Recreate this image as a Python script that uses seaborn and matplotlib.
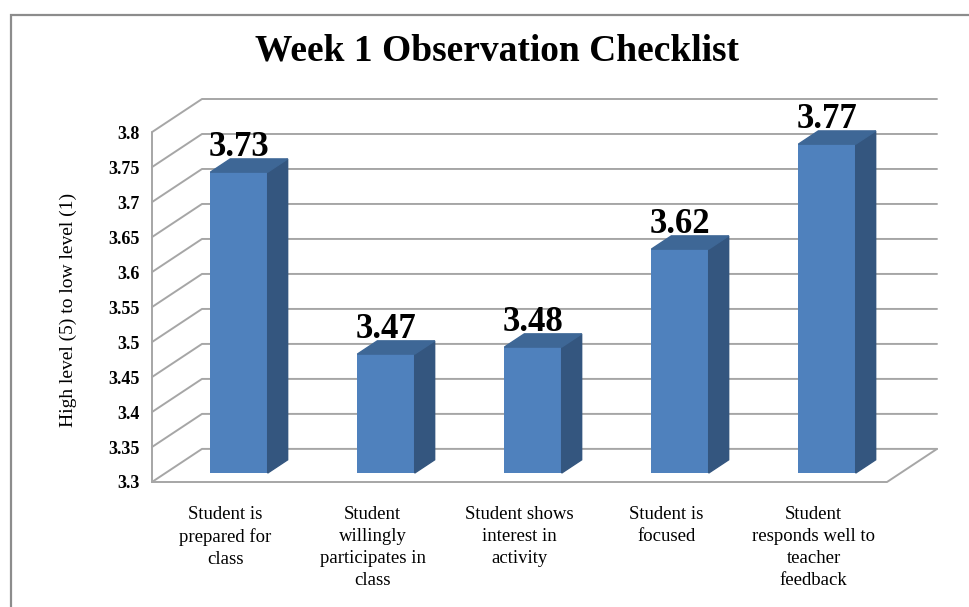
import numpy as np
import seaborn as sns
import matplotlib
matplotlib.use('Agg')
import matplotlib.pyplot as plt
from matplotlib.patches import Polygon, Rectangle

# datos del grafico
categorias = ['Student is\nprepared for\nclass',
              'Student\nwillingly\nparticipates in\nclass',
              'Student shows\ninterest in\nactivity',
              'Student is\nfocused',
              'Student\nresponds well to\nteacher\nfeedback']
valores = [3.73, 3.47, 3.48, 3.62, 3.77]
ticks_y = [3.3, 3.35, 3.4, 3.45, 3.5, 3.55, 3.6, 3.65, 3.7, 3.75, 3.8]

sns.set_style('white')
plt.rcParams['font.family'] = ['Liberation Serif', 'DejaVu Serif']
plt.rcParams['text.color'] = 'black'
plt.rcParams['xtick.color'] = 'black'
plt.rcParams['ytick.color'] = 'black'
plt.rcParams['axes.labelcolor'] = 'black'

# profundidad del efecto 3D (en unidades de datos)
Y0 = 3.3
DX, DY = 0.34, 0.0473
FRAC = 0.27      # posicion de la cara frontal de la barra
SIDE = 0.40      # profundidad de la barra
c_front, c_side, c_top = '#4F81BD', '#34567F', '#3E6796'
c_grid = '#A6A6A6'

fig = plt.figure(figsize=(9.69, 6.07), dpi=100)
ax = fig.add_axes([152 / 969, 1 - 482 / 607, 785 / 969, 383 / 607])

sns.barplot(x=list(range(len(valores))), y=valores, color=c_front,
            width=0.39, saturation=1, ax=ax, zorder=3)

ax.set_xlim(-0.5, len(valores) - 0.5 + DX)
ax.set_ylim(Y0, ticks_y[-1] + DY)
x0, x1 = -0.5, len(valores) - 0.5

# paredes y piso
for t in ticks_y:
    ax.plot([x0, x0 + DX, x1 + DX], [t, t + DY, t + DY], color=c_grid,
            lw=1.4, zorder=1, clip_on=False)
ax.plot([x0, x0], [Y0, ticks_y[-1]], color=c_grid, lw=1.4, zorder=1, clip_on=False)
ax.plot([x0, x1, x1 + DX], [Y0, Y0, Y0 + DY], color=c_grid, lw=1.4, zorder=1,
        clip_on=False)

# caras laterales y superiores de las barras
sdx, sdy = SIDE * DX, SIDE * DY
for p, v in zip(ax.patches, valores):
    p.set_x(p.get_x() + FRAC * DX)
    p.set_y(Y0 + FRAC * DY)
    p.set_height(v - Y0)
    p.set_edgecolor('none')
    bx0, bx1 = p.get_x(), p.get_x() + p.get_width()
    by0, by1 = p.get_y(), p.get_y() + p.get_height()
    ax.add_patch(Polygon([(bx1, by0), (bx1 + sdx, by0 + sdy), (bx1 + sdx, by1 + sdy),
                          (bx1, by1)], closed=True, color=c_side, zorder=3))
    ax.add_patch(Polygon([(bx0, by1), (bx0 + sdx, by1 + sdy), (bx1 + sdx, by1 + sdy),
                          (bx1, by1)], closed=True, color=c_top, zorder=3))
    ax.text((bx0 + bx1) / 2, by1 + sdy + 0.004, f'{v:.2f}', ha='center',
            va='baseline', fontsize=25, fontweight='bold', zorder=4, clip_on=False)

sns.despine(ax=ax, left=True, bottom=True)
ax.set_yticks(ticks_y)
ax.set_yticklabels([f'{t:g}' for t in ticks_y], fontsize=13, fontweight='bold')
ax.set_xticks(range(len(categorias)))
ax.set_xticklabels(categorias, fontsize=13.5, linespacing=1.4, va='top')
ax.tick_params(axis='y', length=0, pad=9)
ax.tick_params(axis='x', length=0, pad=17)
ax.set_ylabel('High level (5) to low level (1)', fontsize=14)
ax.yaxis.set_label_coords(-0.095, 0.449)

fig.text(497 / 969, 1 - 51 / 607, 'Week 1 Observation Checklist', ha='center',
         va='center', fontsize=27, fontweight='bold')

# marco gris
fig.patches.append(Rectangle((11 / 969, -0.1), 1.2, 1.1 - 15 / 607,
                             transform=fig.transFigure, fill=False,
                             edgecolor='#8C8C8C', lw=1.6))

plt.savefig('out.png', dpi=100)
